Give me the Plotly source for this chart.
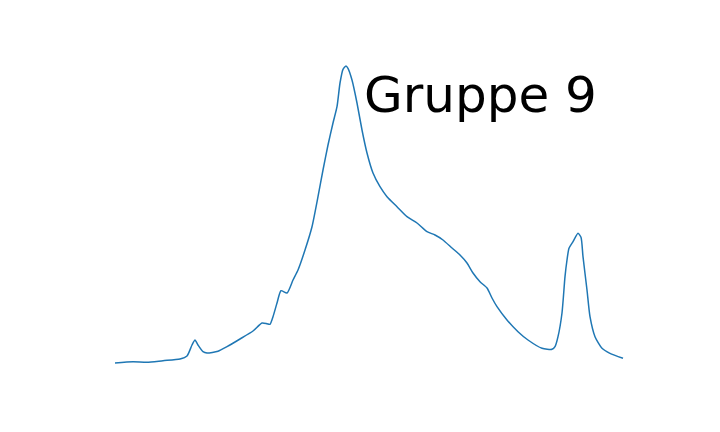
import plotly.graph_objects as go

# Trace (x position, signal height)
x_vals = [115, 133, 147, 163, 180, 187, 192, 195, 198, 203, 207, 218, 227, 240, 253, 262, 267, 270, 273, 277,
          281, 287, 293, 298, 305, 312, 318, 323, 328, 333, 337, 340, 343, 346, 348, 352, 357, 362, 367, 373,
          380, 387, 397, 407, 417, 427, 435, 443, 452, 460, 467, 473, 480, 487, 492, 497, 507, 518, 528, 542,
          552, 555, 558, 562, 565, 567, 569, 573, 578, 581, 583, 587, 590, 595, 602, 610, 623]
y_px = [363, 361.7, 362.3, 360.7, 359, 356, 345, 340, 345, 351.7, 353, 351.3, 346.7, 339, 331, 323, 323.7, 324.3, 316.7, 303,
        290.7, 293, 280, 270, 250, 226.7, 196.7, 170, 145, 123, 106.7, 83, 69.3, 66, 68.3, 80, 103, 130, 153, 173,
        186.7, 196.7, 206.7, 216.7, 223, 231.7, 235, 240, 248, 255, 263, 273, 281.7, 288, 298, 306.7, 320, 331.7, 340, 348.3,
        349.3, 346.7, 336.7, 313, 276.7, 260, 248.3, 241.7, 233.3, 237.3, 256.7, 290, 316.7, 336.7, 348.3, 353.3, 358.3]
y_vals = [432 - v for v in y_px]

title_text = "Gruppe 9"

fig = go.Figure()
fig.add_trace(go.Scatter(x=x_vals, y=y_vals, mode="lines",
                         line=dict(color="#1f77b4", width=1.5, shape="spline", smoothing=0.6),
                         hoverinfo="skip"))
fig.add_annotation(x=362, y=432 - 95, xref="x", yref="y", text=title_text, showarrow=False,
                   xanchor="left", yanchor="middle",
                   font=dict(family="DejaVu Sans", size=50, color="black"))
fig.update_layout(
    width=720, height=432, margin=dict(l=0, r=0, t=0, b=0),
    paper_bgcolor="white", plot_bgcolor="white", showlegend=False,
    xaxis=dict(range=[0, 720], visible=False, fixedrange=True),
    yaxis=dict(range=[0, 432], visible=False, fixedrange=True),
)
fig.write_html("out.html")
